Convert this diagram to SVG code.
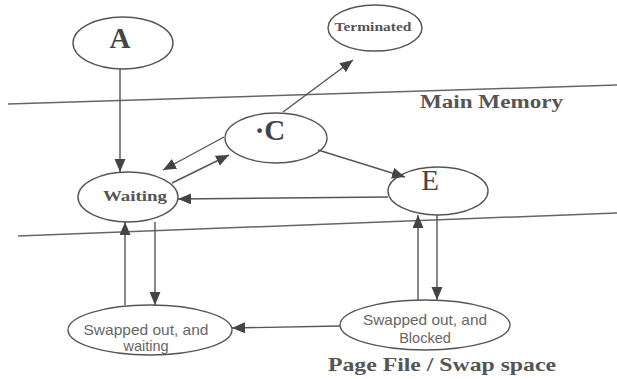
<svg xmlns="http://www.w3.org/2000/svg" width="617" height="379" viewBox="0 0 617 379">
<style>
.n{fill:none;stroke:#555;stroke-width:1.4}
.c{fill:none;stroke:#555;stroke-width:1.4}
.sep{fill:none;stroke:#666;stroke-width:1.5}
.big{font-family:"Liberation Serif",serif;font-weight:bold;font-size:29px;fill:#444;text-anchor:middle}
.lbl{font-family:"Liberation Serif",serif;font-weight:bold;font-size:15px;fill:#555;text-anchor:middle}
.sm{font-family:"Liberation Sans",sans-serif;font-size:14.5px;fill:#666;text-anchor:middle}
.title{font-family:"Liberation Serif",serif;font-weight:bold;font-size:18px;fill:#555}
</style>
<defs>
<marker id="ah" markerUnits="userSpaceOnUse" markerWidth="14" markerHeight="12" refX="13" refY="5.5" orient="auto">
<path d="M0,0 L13,5.5 L0,11 Z" fill="#444"/>
</marker>
</defs>
<rect width="617" height="379" fill="#fff"/>
<line class="sep" x1="8" y1="104" x2="617" y2="85"/>
<line class="sep" x1="18" y1="236" x2="617" y2="213"/>
<text class="title" x="420" y="108" textLength="143" lengthAdjust="spacingAndGlyphs">Main Memory</text>
<text class="title" x="328" y="371" style="font-size:19px" textLength="228" lengthAdjust="spacingAndGlyphs">Page File / Swap space</text>
<g id="A"><ellipse class="n" cx="123" cy="43" rx="50" ry="26"/><text class="big" x="120" y="48">A</text></g>
<g id="Terminated"><ellipse class="n" cx="375" cy="28" rx="47" ry="23"/><text class="lbl" x="373" y="31" style="font-size:12px" textLength="77" lengthAdjust="spacingAndGlyphs">Terminated</text></g>
<g id="C"><ellipse class="n" cx="276" cy="138" rx="51" ry="25"/><text class="big" x="270" y="140">·C</text></g>
<g id="Waiting"><ellipse class="n" cx="128" cy="197" rx="50" ry="25"/><text class="lbl" x="135" y="201" textLength="64" lengthAdjust="spacingAndGlyphs">Waiting</text></g>
<g id="E"><ellipse class="n" cx="438" cy="191" rx="50" ry="24"/><text class="big" x="430" y="190" style="font-weight:normal">E</text></g>
<g id="SwappedWaiting"><ellipse class="n" cx="150" cy="330" rx="82" ry="25"/><text class="sm" x="146" y="335" textLength="125" lengthAdjust="spacingAndGlyphs">Swapped out, and</text><text class="sm" x="146" y="351">waiting</text></g>
<g id="SwappedBlocked"><ellipse class="n" cx="425" cy="325" rx="85" ry="25"/><text class="sm" x="425" y="325" textLength="124" lengthAdjust="spacingAndGlyphs">Swapped out, and</text><text class="sm" x="425" y="343">Blocked</text></g>
<g id="connectors">
<line class="c" x1="120" y1="69" x2="120" y2="172" marker-end="url(#ah)"/>
<line class="c" x1="283" y1="112" x2="353" y2="60" marker-end="url(#ah)"/>
<line class="c" x1="224" y1="137" x2="163" y2="170" marker-end="url(#ah)"/>
<line class="c" x1="172" y1="183" x2="229" y2="155" marker-end="url(#ah)"/>
<line class="c" x1="318" y1="150" x2="405" y2="177" marker-end="url(#ah)"/>
<line class="c" x1="388" y1="197" x2="178" y2="199" marker-end="url(#ah)"/>
<line class="c" x1="155" y1="222" x2="155" y2="305" marker-end="url(#ah)"/>
<line class="c" x1="125" y1="305" x2="125" y2="222" marker-end="url(#ah)"/>
<line class="c" x1="418" y1="300" x2="418" y2="215" marker-end="url(#ah)"/>
<line class="c" x1="437" y1="215" x2="437" y2="300" marker-end="url(#ah)"/>
<line class="c" x1="340" y1="326" x2="232" y2="328" marker-end="url(#ah)"/>
</g>
</svg>
